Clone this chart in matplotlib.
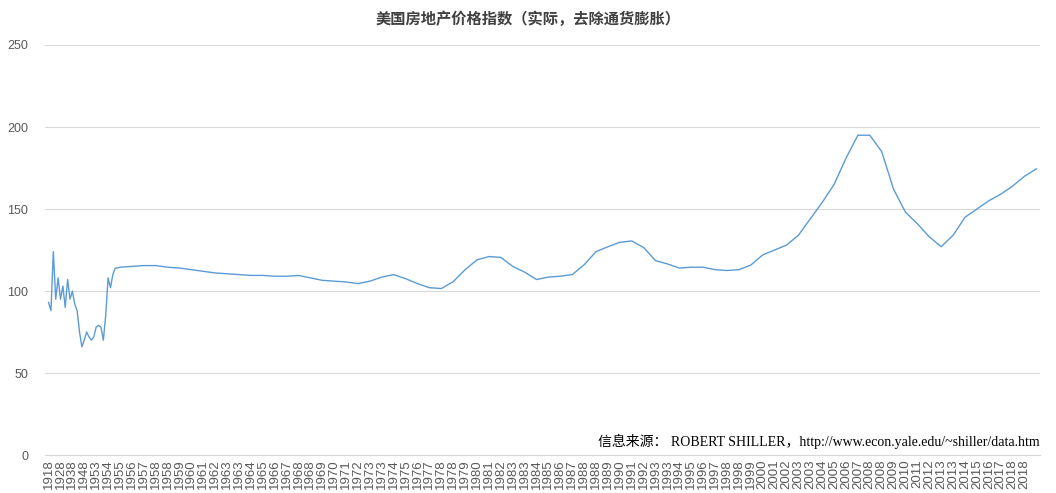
import matplotlib
matplotlib.use("Agg")
import matplotlib.pyplot as plt
import numpy as np

tick_labels = ["1918", "1928", "1938", "1948"]
for y in range(1953, 2019):
    tick_labels.append(str(y))
    if y in (1958, 1963, 1968, 1973, 1978, 1983, 1988, 1993, 1998, 2003, 2008, 2013, 2018):
        tick_labels.append(str(y))

# early period, sampled every 0.2 label step (labels 0..6)
early_values = [93, 88, 124, 95, 108, 95, 103, 90, 107, 95, 100, 92, 88, 75, 66, 70,
                75, 72, 70, 72, 78, 79, 78, 70, 85, 108, 102, 110, 114, 114, 114.5]
# main period, one value per label step (labels 6..83)
main_values = [114.5, 115, 115.5, 115.5, 114.5, 114, 113, 112, 111, 110.5, 110, 109.5,
               109.5, 109, 109, 109.5, 108, 106.5, 106, 105.5, 104.5, 106, 108.5, 110,
               107.5, 104.5, 102, 101.5, 105.7, 113, 119, 121, 120.5, 115, 111.5, 107,
               108.5, 109, 110, 116, 124, 127, 129.7, 130.5, 126.5, 118.5, 116.5, 114,
               114.5, 114.5, 113, 112.5, 113, 115.8, 122, 125, 128, 134, 144, 154, 165,
               181, 195, 195, 185, 162, 148, 141, 133, 127, 134, 145, 150, 155, 159,
               164, 170, 174.5]

x_early = np.arange(len(early_values)) * 0.2
x_main = 6 + np.arange(len(main_values))
x = np.concatenate([x_early[:-1], x_main])
y = np.concatenate([early_values[:-1], main_values])

fig = plt.figure(figsize=(10.56, 4.93), dpi=100)
ax = fig.add_axes([45/1056, 1-455/493, (1040-45)/1056, (455-45)/493])
ax.plot(x, y, color="#5b9bd5", lw=1.0)
ax.set_ylim(0, 250)
ax.set_yticks([0, 50, 100, 150, 200, 250])
ax.set_xlim(-0.3, 83.3)
ax.set_xticks(range(len(tick_labels)))
ax.set_xticklabels(tick_labels, rotation=90, fontsize=9.5, color="#595959", fontfamily="Liberation Sans")
ax.tick_params(axis="y", labelsize=9, colors="#595959", length=0, pad=12)
ax.tick_params(axis="x", length=0, pad=3)
for t in ax.get_yticklabels():
    t.set_fontfamily("Liberation Sans")
ax.grid(axis="y", color="#d9d9d9", lw=0.8)
for s in ("top", "right", "left"):
    ax.spines[s].set_visible(False)
ax.spines["bottom"].set_color("#d9d9d9")
ax.set_axisbelow(True)

fig.text(0.5, 1-19/493, "美国房地产价格指数（实际，去除通货膨胀）", ha="center", va="center",
         fontsize=11, fontweight="bold", color="#404040", family=["Noto Sans CJK SC", "DejaVu Sans"])
fig.text(1040/1056, 1-441/493, "信息来源： ROBERT SHILLER，http://www.econ.yale.edu/~shiller/data.htm",
         ha="right", va="center", fontsize=10, color="#000000",
         family=["Liberation Serif", "Noto Sans CJK SC"])
fig.savefig("out.png", dpi=100)
